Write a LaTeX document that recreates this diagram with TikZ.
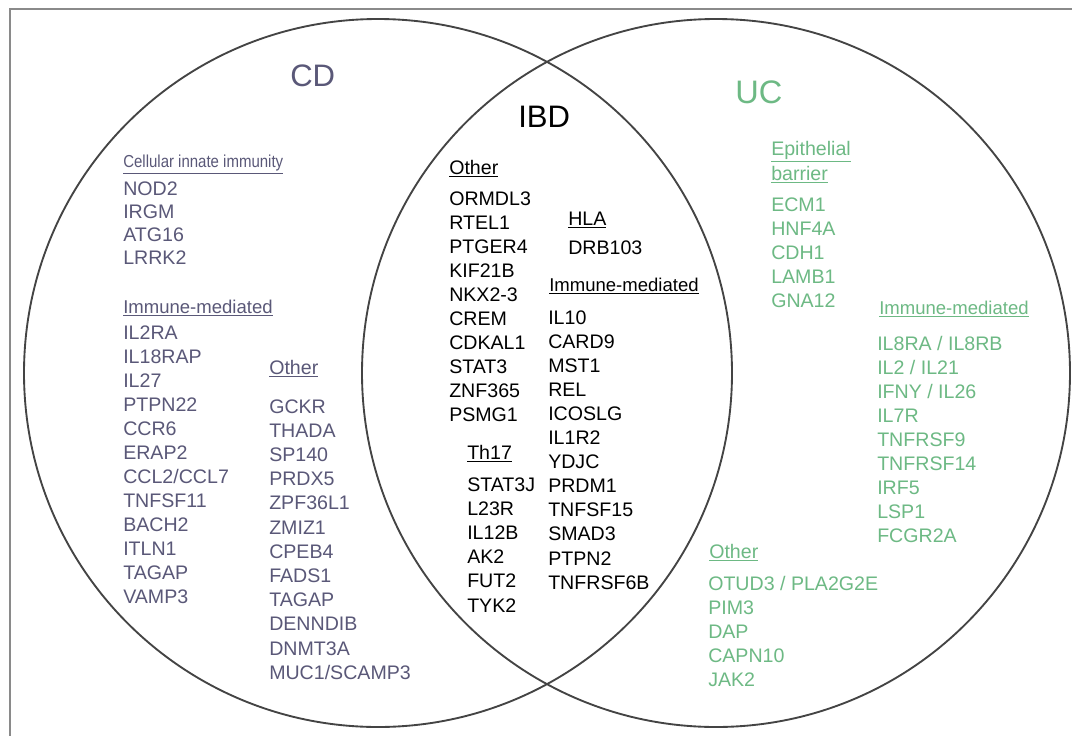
\documentclass[tikz,border=0pt]{standalone}
\usepackage{fontspec}
\setmainfont{Liberation Sans}
\newfontfamily\narrowfont{Liberation Sans}[FakeStretch=0.865]
\usetikzlibrary{positioning}

\definecolor{cdcol}{HTML}{5A5878}
\definecolor{uccol}{HTML}{6DB984}
\definecolor{framecol}{HTML}{8A8A8A}
\definecolor{ringcol}{HTML}{444444}

\newcommand{\hd}[1]{\underline{#1}}

\begin{document}
\begin{tikzpicture}[x=0.75pt,y=-0.75pt,
        gene/.style={anchor=base west,inner sep=0pt,font=\fontsize{14.7}{17}\selectfont},
        cd node/.style={gene,text=cdcol},
        ibd node/.style={gene,text=black},
        uc node/.style={gene,text=uccol},
        imm head/.style={font=\fontsize{13.9}{16}\selectfont},
        title/.style={anchor=base west,inner sep=0pt,font=\fontsize{23.3}{28}\selectfont},
        ring/.style={draw=ringcol,line width=1.4pt}]
        \useasboundingbox[fill=white] (0,0) rectangle (1072,736);
        \draw[framecol,line width=1.3pt] (10,9) rectangle (1090,760);
        \draw[ring] (378,373) circle[radius=354];
        \draw[ring] (716,373) circle[radius=354];

        % titles
        \node[title,text=cdcol] (cd) at (290,86) {CD};
        \node[title] (ibd) at (518,127) {IBD};
        \node[title,text=uccol,font=\fontsize{24.4}{29}\selectfont] (uc) at (735,103) {UC};

        % CD only
        \node[cd node,font=\narrowfont\fontsize{13}{15}\selectfont] (cdinnate) at (123,167.5) {\hd{Cellular innate immunity}};
        \foreach \g [count=\i] in {NOD2,IRGM,ATG16,LRRK2}
            \node[cd node] (cdinnate\i) at (123,171.7+\i*23.3) {\g};
        \node[cd node,imm head] (cdimm) at (123,313.6) {\hd{Immune-mediated}};
        \foreach \g [count=\i] in {IL2RA,IL18RAP,IL27,PTPN22,CCR6,ERAP2,CCL2/CCL7,TNFSF11,BACH2,ITLN1,TAGAP,VAMP3}
            \node[cd node] (cdimm\i) at (123,315.7+\i*24) {\g};
        \node[cd node] (cdother) at (269,374.7) {\hd{Other}};
        \foreach \g [count=\i] in {GCKR,THADA,SP140,PRDX5,ZPF36L1,ZMIZ1,CPEB4,FADS1,TAGAP,DENNDIB,DNMT3A,MUC1/SCAMP3}
            \node[cd node] (cdother\i) at (269,388.8+\i*24.2) {\g};

        % shared
        \node[ibd node] (ibdother) at (449,174) {\hd{Other}};
        \foreach \g [count=\i] in {ORMDL3,RTEL1,PTGER4,KIF21B,NKX2-3,CREM,CDKAL1,STAT3,ZNF365,PSMG1}
            \node[ibd node] (ibdother\i) at (449,180.9+\i*24.1) {\g};
        \node[ibd node] (hla) at (568,225) {\hd{HLA}};
        \node[ibd node] (hla1) at (568,254) {DRB103};
        \node[ibd node,imm head] (ibdimm) at (549,291.6) {\hd{Immune-mediated}};
        \foreach \g [count=\i] in {IL10,CARD9,MST1,REL,ICOSLG,IL1R2,YDJC,PRDM1,TNFSF15,SMAD3,PTPN2,TNFRSF6B}
            \node[ibd node] (ibdimm\i) at (548,299.9+\i*24.1) {\g};
        \node[ibd node] (th17) at (467,459) {\hd{Th17}};
        \foreach \g [count=\i] in {STAT3J,L23R,IL12B,AK2,FUT2,TYK2}
            \node[ibd node] (th17\i) at (467,466.8+\i*24.2) {\g};

        % UC only
        \node[uc node] (epi) at (771,155) {\hd{Epithelial}};
        \node[uc node] (barrier) at (771,180) {\hd{barrier}};
        \foreach \g [count=\i] in {ECM1,HNF4A,CDH1,LAMB1,GNA12}
            \node[uc node] (epi\i) at (771,186.8+\i*24.2) {\g};
        \node[uc node,imm head] (ucimm) at (879,314.6) {\hd{Immune-mediated}};
        \foreach \g [count=\i] in {IL8RA / IL8RB,IL2 / IL21,IFNY / IL26,IL7R,TNFRSF9,TNFRSF14,IRF5,LSP1,FCGR2A}
            \node[uc node] (ucimm\i) at (877,325.9+\i*24.1) {\g};
        \node[uc node] (ucother) at (709,558) {\hd{Other}};
        \foreach \g [count=\i] in {OTUD3 / PLA2G2E,PIM3,DAP,CAPN10,JAK2}
            \node[uc node] (ucother\i) at (708,565.8+\i*24.2) {\g};
\end{tikzpicture}
\end{document}
